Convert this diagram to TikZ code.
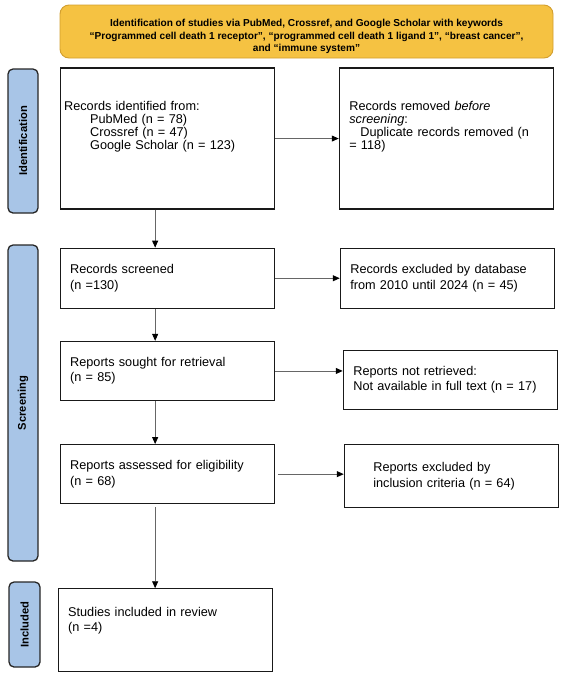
\documentclass[tikz,border=0pt]{standalone}
\usepackage{fontspec}
\setmainfont{Liberation Sans}
\usetikzlibrary{arrows.meta,positioning}

\definecolor{headfill}{HTML}{F5C242}
\definecolor{headline}{HTML}{D29E2E}
\definecolor{stagefill}{HTML}{A8C5E7}

\newcommand{\liftup}[3][l]{\raisebox{#2}[\height][\depth]{\begin{tabular}{@{}#1@{}}#3\end{tabular}}}

\begin{document}
\begin{tikzpicture}[
  x=1pt, y=-1pt,
  header/.style={draw=headline, line width=0.9pt, rounded corners=9pt, fill=headfill, align=center, minimum width=493pt, minimum height=53pt, inner sep=0pt, font=\bfseries\fontsize{10.1}{12.6}\selectfont},
  stage/.style={draw=black!85, line width=1.3pt, rounded corners=5pt, fill=stagefill, rotate=90, inner sep=0pt, font=\bfseries\fontsize{11.2}{13}\selectfont},
  box/.style={draw=black!90, line width=1.2pt, align=left, text width=194pt, inner xsep=10pt, inner ysep=0pt, font=\fontsize{12.7}{15.5}\selectfont},
  arrow/.style={-{Triangle[length=7pt,width=6pt,color=black]}, draw=black!60, line width=0.9pt}
]
\useasboundingbox (0,0) rectangle (563,673);

\node[header] (head) at (306.5,31.5) {\liftup[c]{-5pt}{Identification of studies via PubMed, Crossref, and Google Scholar with keywords\\“Programmed cell death 1 receptor”, “programmed cell death 1 ligand 1”, “breast cancer”,\\and “immune system”}};

\node[box, minimum height=141pt, inner xsep=4pt, text width=206pt, font=\fontsize{12.7}{13}\selectfont, below right=9pt and 0pt of head.south west] (records) {\liftup{11pt}{Records identified from:\\\hspace*{26pt}PubMed (n = 78)\\\hspace*{26pt}Crossref (n = 47)\\\hspace*{26pt}Google Scholar (n = 123)}};
\node[box, minimum height=141pt, font=\fontsize{12.7}{13}\selectfont, right=64pt of records] (removed) {\liftup{11pt}{Records removed \textit{before}\\\textit{screening}:\\\hspace*{11pt}Duplicate records removed (n\\= 118)}};

\node[box, minimum height=60pt, below right=38pt and 0pt of records.south west] (screened) {Records screened\\(n =130)};
\node[box, minimum height=60pt, right=65pt of screened] (excluded) {Records excluded by database\\from 2010 until 2024 (n = 45)};
\node[box, minimum height=59pt, below right=32pt and 0pt of screened.south west] (sought) {Reports sought for retrieval\\(n = 85)};
\node[box, minimum height=59pt, right=68pt of sought, yshift=-9pt] (notret) {Reports not retrieved:\\Not available in full text (n = 17)};
\node[box, minimum height=59pt, below right=43pt and 0pt of sought.south west] (assessed) {Reports assessed for eligibility\\(n = 68)};
\node[box, minimum height=63pt, inner xsep=29pt, text width=156pt, right=69pt of assessed, yshift=-2pt] (inclusion) {Reports excluded by\\inclusion criteria (n = 64)};
\node[box, minimum height=83pt, font=\fontsize{12.7}{15}\selectfont, below right=84pt and -2pt of assessed.south west] (studies) {\liftup{9.5pt}{Studies included in review\\(n =4)}};

\node[stage, minimum width=144pt, minimum height=30pt] (identlab) at (23,141) {Identification};
\node[stage, minimum width=316pt, minimum height=30pt] (screenlab) at (23,403) {Screening};
\node[stage, minimum width=85pt, minimum height=31pt] (inclab) at (24.5,624.5) {Included};

\draw[arrow] (records) -- (removed);
\draw[arrow] ([xshift=-12pt]records.south) -- ([xshift=-12pt]records.south |- screened.north);
\draw[arrow] (screened) -- (excluded);
\draw[arrow] ([xshift=-12pt]screened.south) -- ([xshift=-12pt]screened.south |- sought.north);
\draw[arrow] (sought.east) -- (sought.east -| notret.west);
\draw[arrow] ([xshift=-12pt]sought.south) -- ([xshift=-12pt]sought.south |- assessed.north);
\draw[arrow, shorten <=3pt] (assessed.east) -- (assessed.east -| inclusion.west);
\draw[arrow, shorten <=3pt] ([xshift=-12pt]assessed.south) -- ([xshift=-12pt]assessed.south |- studies.north);
\end{tikzpicture}
\end{document}
